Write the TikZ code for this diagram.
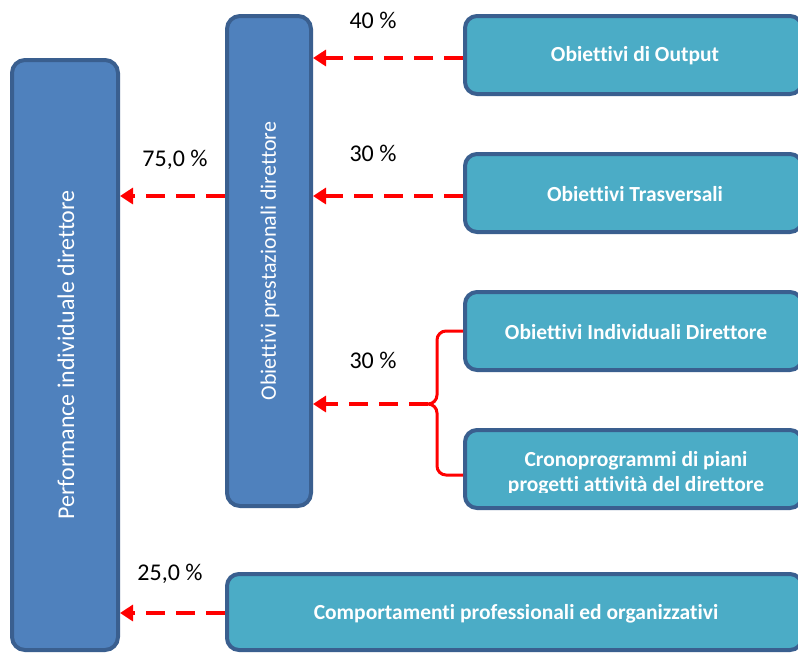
\documentclass[tikz,border=0pt]{standalone}
\usepackage{fontspec}
\setmainfont[Ligatures={NoCommon}]{Carlito}
\usetikzlibrary{arrows.meta}
\definecolor{boxblue}{HTML}{4F81BD}
\definecolor{boxteal}{HTML}{4BACC6}
\definecolor{boxedge}{HTML}{3A5F8F}
\tikzset{
  bluebox/.style={draw=boxedge, line width=4pt, fill=boxblue, rounded corners=13pt, inner sep=0pt},
  tealbox/.style={draw=boxedge, line width=4pt, fill=boxteal, rounded corners=12pt, inner sep=0pt},
  btext/.style={text=white, font=\fontsize{21.5}{25}\selectfont\bfseries, align=center},
  vtext/.style={text=white, rotate=90, font=\fontsize{24}{28}\selectfont},
  pct/.style={font=\fontsize{24}{28}\selectfont, text=black},
  redarrow/.style={draw=red, line width=4pt, dash pattern=on 19pt off 11pt, -{Triangle[length=13pt,width=16pt]}},
  bracket/.style={draw=red, line width=3pt}
}
\begin{document}
\begin{tikzpicture}[x=1pt,y=-1pt]
\clip (0,0) rectangle (798,654);
\fill[white] (0,0) rectangle (798,654);
% boxes
\node[bluebox, minimum width=106pt, minimum height=590pt] (perf) at (65,355) {};
\node[vtext] (perftxt) at (66,355) {Performance individuale direttore};
\node[bluebox, minimum width=84pt, minimum height=490pt] (obp) at (269,261) {};
\node[vtext, font=\fontsize{22}{26}\selectfont] (obptxt) at (270,261) {Obiettivi prestazionali direttore};
\node[tealbox, minimum width=337pt, minimum height=78pt] (out) at (633.5,55) {};
\node[btext] (outtxt) at (635,56) {Obiettivi di Output};
\node[tealbox, minimum width=337pt, minimum height=78pt] (tra) at (633.5,193) {};
\node[btext] (tratxt) at (635,194) {Obiettivi Trasversali};
\node[tealbox, minimum width=337pt, minimum height=78pt] (ind) at (633.5,331) {};
\node[btext] (indtxt) at (636,332) {Obiettivi Individuali Direttore};
\node[tealbox, minimum width=337pt, minimum height=78pt] (cro) at (633.5,469) {};
\begin{scope}
\clip (470,430) rectangle (798,492.5);
\node[btext] (crotxt) at (636,473) {Cronoprogrammi di piani\\progetti attività del direttore};
\end{scope}
\node[tealbox, minimum width=575pt, minimum height=76pt] (com) at (514.5,612) {};
\node[btext] (comtxt) at (516,614) {Comportamenti professionali ed organizzativi};
% labels
\node[pct] (p40) at (373,20) {40 \%};
\node[pct] (p30a) at (373,153) {30 \%};
\node[pct] (p30b) at (373,360) {30 \%};
\node[pct] (p75) at (175,160) {75,0 \%};
\node[pct] (p25) at (170,574) {25,0 \%};
% arrows
\draw[redarrow] ([yshift=-3pt]out.west) -- ([yshift=-3pt]out.west -| obp.east);
\draw[redarrow] ([yshift=-3pt]tra.west) -- ([yshift=-3pt]tra.west -| obp.east);
\draw[redarrow] (obp.west |- 0,196) -- (perf.east |- 0,196);
\draw[redarrow] ([yshift=-1pt]com.west) -- ([yshift=-1pt]com.west -| perf.east);
% bracket
\coordinate (cusp) at (428,404);
\draw[bracket] (ind.west) -- (446,331) to[out=180,in=90] (437,340) -- (437,395)
   to[out=-90,in=0] (cusp) to[out=0,in=90] (437,413) -- (437,466) to[out=-90,in=180] (446,475) -- (cro.west |- 0,475);
\draw[redarrow] (cusp) -- (obp.east |- cusp);
\end{tikzpicture}
\end{document}
